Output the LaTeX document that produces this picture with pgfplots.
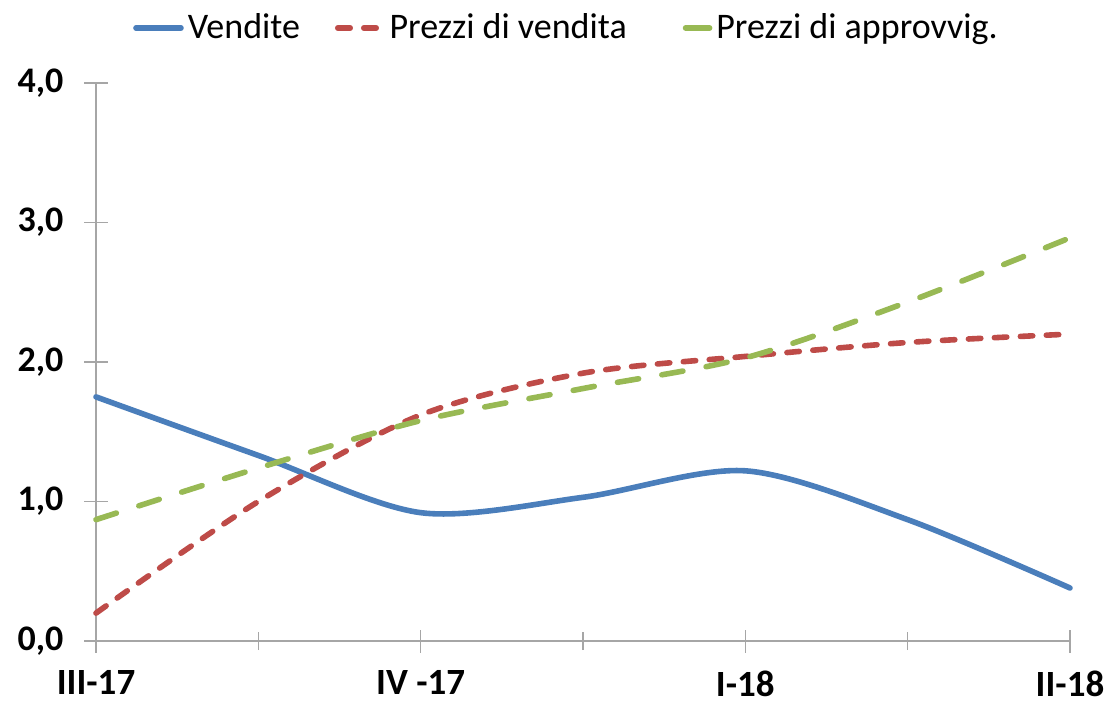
\documentclass[border=0pt]{standalone}
\usepackage{fontspec}
\setmainfont{Carlito}
\usepackage{pgfplots}
\pgfplotsset{compat=1.18}
\definecolor{cblue}{HTML}{4A7EBB}
\definecolor{cred}{HTML}{BE4B48}
\definecolor{cgreen}{HTML}{98B954}
\definecolor{axgray}{HTML}{A6A6A6}
\pgfplotsset{greenleg/.style={legend image code/.code={\draw[##1,solid] (5pt,0pt) -- (17pt,0pt);}}}
\begin{document}
\begin{tikzpicture}
\begin{axis}[
  scale only axis,
  width=487pt, height=279pt,
  xmin=0, xmax=3, ymin=0, ymax=4,
  axis x line=bottom, axis y line=left,
  axis line style={-, draw=axgray, line width=0.7pt},
  xtick={0,1,2,3},
  xticklabels={III-17, IV -17, I-18, II-18},
  minor xtick={0.5,1.5,2.5},
  ytick={0,1,2,3,4},
  yticklabels={{0,0},{1,0},{2,0},{3,0},{4,0}},
  tick align=center,
  major tick length=11.5pt,
  minor tick length=9pt,
  every tick/.style={draw=axgray, line width=0.7pt},
  x tick label style={font=\fontsize{18.5}{22}\selectfont\bfseries, text=black, inner sep=0pt, yshift=-9pt},
  y tick label style={font=\fontsize{18}{21}\selectfont\bfseries, text=black, xshift=-7pt},
  legend columns=3,
  legend style={at={(rel axis cs:0.484,1)}, anchor=center, yshift=27.5pt,
    draw=none, fill=none, font=\fontsize{18}{21}\selectfont,
    /tikz/column 2/.style={column sep=15.5pt},
    /tikz/column 4/.style={column sep=26pt}},
  legend image code/.code={\draw[#1] (0pt,0pt) -- (22.5pt,0pt);},
  clip=false,
  execute at end axis={\coordinate (bl) at (rel axis cs:0,0); \coordinate (tr) at (rel axis cs:1,1);},
]
\addplot[cblue, line width=2.8pt, line cap=round, smooth] coordinates
  {(0,1.75) (0.5,1.33) (1,0.92) (1.5,1.03) (2,1.22) (2.5,0.87) (3,0.38)};
\addlegendentry{Vendite}
\addplot[cred, line width=2.8pt, line cap=round, smooth, dash pattern=on 6.2pt off 6.8pt] coordinates
  {(0,0.20) (0.5,1.00) (1,1.62) (1.5,1.92) (2,2.04) (2.5,2.14) (3,2.20)};
\addlegendentry{Prezzi di vendita}
\addplot[cgreen, line width=2.8pt, line cap=round, smooth, dash pattern=on 10.7pt off 11.8pt, greenleg] coordinates
  {(0,0.87) (0.5,1.24) (1,1.58) (1.5,1.81) (2,2.03) (2.5,2.43) (3,2.89)};
\addlegendentry{Prezzi di approvvig.}
\end{axis}
\pgfresetboundingbox
\path[use as bounding box] ([xshift=-48pt,yshift=-30pt]bl) rectangle ([xshift=17.5pt,yshift=41.5pt]tr);
\end{tikzpicture}
\end{document}
